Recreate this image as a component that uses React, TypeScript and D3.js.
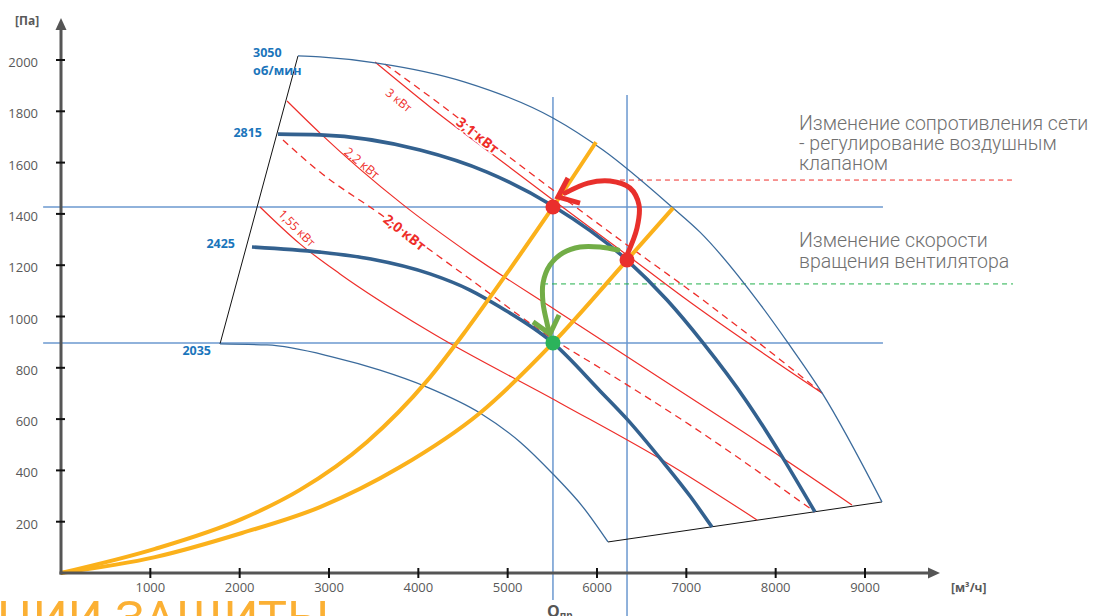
import React from "react";
import * as d3 from "d3";

type Pt = [number, number];

// ---------- axis ticks ----------
const xTickValues = [1000, 2000, 3000, 4000, 5000, 6000, 7000, 8000, 9000];
const yTickValues = [200, 400, 600, 800, 1000, 1200, 1400, 1600, 1800, 2000];

// ---------- fan curves (Q m3/h, P Pa) ----------
const curve3050: Pt[] = [[2653, 2016], [2899, 2012], [3537, 1988], [4522, 1914], [5507, 1774], [6067, 1649], [6851, 1423], [7153, 1329], [7791, 1064], [8138, 897], [8519, 702], [9190, 277]];
const curve2815: Pt[] = [[2429, 1711], [2899, 1708], [4019, 1649], [4769, 1563], [5507, 1431], [6336, 1220], [6784, 1064], [7187, 897], [7679, 667], [8082, 448], [8440, 238]];
const curve2425: Pt[] = [[2138, 1271], [2899, 1251], [3470, 1224], [4131, 1166], [4578, 1103], [4914, 1037], [5507, 897], [6034, 710], [6336, 600], [6739, 433], [7041, 300], [7287, 179]];
const curve2035: Pt[] = [[1780, 893], [2306, 889], [3045, 842], [3571, 791], [4097, 725], [4690, 624], [5138, 511], [5507, 386], [5843, 257], [6123, 121]];
const leftBoundary: Pt[] = [[2653, 2016], [1780, 893]];
const bottomBoundary: Pt[] = [[6123, 121], [9190, 277]];

// ---------- system (network) curves ----------
const systemA: Pt[] = [[0, 0], [1052, 94], [2026, 211], [2675, 324], [3425, 511], [4097, 749], [4545, 951], [5026, 1185], [5507, 1427], [5989, 1680]];
const systemB: Pt[] = [[0, 0], [1052, 62], [2026, 156], [2899, 257], [3795, 413], [4690, 624], [5507, 897], [6336, 1220], [6851, 1423]];

// ---------- power lines ----------
const power3: Pt[] = [[3515, 1992], [4131, 1817], [4914, 1610], [5507, 1454], [6336, 1240], [6963, 1076], [8519, 702]];
const power31: Pt[] = [[3627, 1984], [4243, 1828], [4914, 1649], [5507, 1493], [6336, 1279], [7187, 1064], [8519, 702]];
const power22: Pt[] = [[2530, 1840], [2899, 1715], [3817, 1439], [4578, 1244], [5586, 1014], [6705, 760], [7824, 507], [8854, 265]];
const power20: Pt[] = [[2485, 1688], [2899, 1563], [3571, 1400], [4578, 1146], [5507, 912], [6034, 799], [7075, 569], [8440, 238]];
const power155: Pt[] = [[2228, 1427], [2675, 1283], [3123, 1166], [4097, 947], [5586, 663], [6784, 429], [7791, 207]];

// ---------- operating points & guides ----------
const redPoints: Pt[] = [[5507, 1427], [6336, 1220]];
const greenPoint: Pt = [5507, 897];
const guideP = [1427, 897];
const guideQRange = [-200, 9201];
const guideQ = [5507, 6336];
const guideQTop = [1856, 1864];
const guideQBottom = [-105, -168];
const redDashP = 1532;
const redDashQ = [6257, 10679];
const greenDashP = 1127;
const greenDashQ = [5396, 10657];

// ---------- arrows ----------
const redArrowShaft: Pt[] = [[6336, 1240], [6448, 1345], [6470, 1435], [6369, 1501], [6146, 1528], [5899, 1520], [5642, 1481]];
const redArrowHead: Pt[] = [[5675, 1540], [5563, 1466], [5810, 1442]];
const greenArrowShaft: Pt[] = [[6235, 1259], [6034, 1271], [5810, 1271], [5619, 1248], [5474, 1201], [5396, 1131], [5396, 1053], [5440, 975], [5463, 940]];
const greenArrowHead: Pt[] = [[5284, 979], [5474, 932], [5575, 1006]];

// ---------- labels ----------
const rpmLabels = [
  { text: "2815", dx: -16, dy: -2 },
  { text: "2425", dx: -17, dy: -3 },
  { text: "2035", dx: -9, dy: 7 },
];
const powerLabels = [
  { text: "3 кВт", Q: 3784, P: 1844, angle: 39, bold: false, size: 12 },
  { text: "3,1 кВт", Q: 4668, P: 1708, angle: 38, bold: true, size: 14 },
  { text: "2,2 кВт", Q: 3369, P: 1598, angle: 40, bold: false, size: 12.5 },
  { text: "2,0 кВт", Q: 3851, P: 1329, angle: 38, bold: true, size: 14 },
  { text: "1,55 кВт", Q: 2642, P: 1345, angle: 45, bold: false, size: 12 },
];
const noteDamper = ["Изменение сопротивления сети", "- регулирование воздушным", "клапаном"];
const noteSpeed = ["Изменение скорости", "вращения вентилятора"];

const W = 1093;
const H = 616;

export default function App() {
  const x = d3.scaleLinear().domain([0, 9000]).range([61, 865]);
  const y = d3.scaleLinear().domain([0, 2000]).range([573, 60]);
  const smooth = d3.line<Pt>().x((d) => x(d[0])).y((d) => y(d[1])).curve(d3.curveMonotoneX);
  const free = d3.line<Pt>().x((d) => x(d[0])).y((d) => y(d[1])).curve(d3.curveCatmullRom.alpha(0.5));
  const straight = d3.line<Pt>().x((d) => x(d[0])).y((d) => y(d[1]));

  const x0 = x(0);
  const y0 = y(0);
  const thickBlue = "#33618f";
  const thinBlue = "#3b6b9c";
  const guideBlue = "#6b98cf";
  const red = "#ee2e2a";
  const orange = "#fbb11b";
  const axisCol = "#555555";
  const tickFont = "'Open Sans', sans-serif";

  return (
    <svg width={W} height={H} style={{ position: "absolute", left: 0, top: 0, display: "block", background: "#fff" }}>
      {/* guides */}
      {guideP.map((p, i) => (
        <line key={"gh" + i} x1={x(guideQRange[0])} x2={x(guideQRange[1])} y1={y(p)} y2={y(p)} stroke={guideBlue} strokeWidth={1.5} />
      ))}
      {guideQ.map((q, i) => (
        <line key={"gv" + i} x1={x(q)} x2={x(q)} y1={y(guideQTop[i])} y2={y(guideQBottom[i])} stroke={guideBlue} strokeWidth={1.5} />
      ))}
      <line x1={x(redDashQ[0])} x2={x(redDashQ[1])} y1={y(redDashP)} y2={y(redDashP)} stroke={red} strokeWidth={1} strokeDasharray="5,4" />
      <line x1={x(greenDashQ[0])} x2={x(greenDashQ[1])} y1={y(greenDashP)} y2={y(greenDashP)} stroke="#21b04b" strokeWidth={1} strokeDasharray="5,4" />

      {/* boundaries */}
      <path d={straight(leftBoundary) || ""} fill="none" stroke="#111" strokeWidth={1} />
      <path d={straight(bottomBoundary) || ""} fill="none" stroke="#111" strokeWidth={1} />

      {/* power lines */}
      <path d={smooth(power3) || ""} fill="none" stroke={red} strokeWidth={1.2} />
      <path d={smooth(power31) || ""} fill="none" stroke={red} strokeWidth={1.3} strokeDasharray="7,5" />
      <path d={smooth(power22) || ""} fill="none" stroke={red} strokeWidth={1.2} />
      <path d={smooth(power20) || ""} fill="none" stroke={red} strokeWidth={1.3} strokeDasharray="7,5" />
      <path d={smooth(power155) || ""} fill="none" stroke={red} strokeWidth={1.2} />

      {/* fan curves */}
      <path d={smooth(curve3050) || ""} fill="none" stroke={thinBlue} strokeWidth={1.3} />
      <path d={smooth(curve2035) || ""} fill="none" stroke={thinBlue} strokeWidth={1.3} />
      <path d={smooth(curve2815) || ""} fill="none" stroke={thickBlue} strokeWidth={3.6} />
      <path d={smooth(curve2425) || ""} fill="none" stroke={thickBlue} strokeWidth={3.6} />

      {/* system curves */}
      <path d={smooth(systemA) || ""} fill="none" stroke={orange} strokeWidth={4} />
      <path d={smooth(systemB) || ""} fill="none" stroke={orange} strokeWidth={4} />

      {/* power labels */}
      {powerLabels.map((l, i) => (
        <text
          key={"pl" + i}
          transform={`translate(${x(l.Q)},${y(l.P)}) rotate(${l.angle})`}
          textAnchor="middle"
          dominantBaseline="central"
          fontFamily={tickFont}
          fontSize={l.size}
          fontWeight={l.bold ? 700 : 400}
          fill={red}
          stroke={l.bold ? "#fff" : "none"}
          strokeWidth={l.bold ? 3 : 0}
          paintOrder="stroke"
        >
          {l.text}
        </text>
      ))}

      {/* arrows */}
      <path d={free(redArrowShaft) || ""} fill="none" stroke="#e8302c" strokeWidth={5} strokeLinecap="round" />
      <path d={straight(redArrowHead) || ""} fill="none" stroke="#e8302c" strokeWidth={5} strokeLinecap="butt" strokeLinejoin="miter" />
      <path d={free(greenArrowShaft) || ""} fill="none" stroke="#72ad47" strokeWidth={5} strokeLinecap="round" />
      <path d={straight(greenArrowHead) || ""} fill="none" stroke="#72ad47" strokeWidth={5} strokeLinecap="butt" strokeLinejoin="miter" />

      {/* operating points */}
      {redPoints.map((p, i) => (
        <circle key={"rp" + i} cx={x(p[0])} cy={y(p[1])} r={7.5} fill="#ea2f2c" />
      ))}
      <circle cx={x(greenPoint[0])} cy={y(greenPoint[1])} r={7.5} fill="#2bb35b" />

      {/* rpm labels */}
      <text x={x(curve3050[0][0]) - 45} y={y(curve3050[0][1]) + 1} fontFamily={tickFont} fontSize={12.5} fontWeight={700} fill="#1b75bb">3050</text>
      <text x={x(curve3050[0][0]) - 45} y={y(curve3050[0][1]) + 19} fontFamily={tickFont} fontSize={12.5} fontWeight={700} fill="#1b75bb">об/мин</text>
      {[curve2815, curve2425, curve2035].map((c, i) => (
        <text
          key={"rl" + i}
          x={x(c[0][0]) + rpmLabels[i].dx}
          y={y(c[0][1]) + rpmLabels[i].dy}
          textAnchor="end"
          dominantBaseline="central"
          fontFamily={tickFont}
          fontSize={12.5}
          fontWeight={700}
          fill="#1b75bb"
        >
          {rpmLabels[i].text}
        </text>
      ))}

      {/* axes */}
      <line x1={x0} x2={x0} y1={y0 + 1.5} y2={26} stroke={axisCol} strokeWidth={3} />
      <polygon points={`${x0},18 ${x0 - 5.5},30 ${x0 + 5.5},30`} fill={axisCol} />
      <line x1={x0 - 1.5} x2={932} y1={y0} y2={y0} stroke={axisCol} strokeWidth={3} />
      <polygon points={`940,${y0} 928,${y0 - 5.5} 928,${y0 + 5.5}`} fill={axisCol} />
      {yTickValues.map((v) => (
        <g key={"yt" + v}>
          <line x1={x0 - 5} x2={x0 + 4} y1={y(v)} y2={y(v)} stroke="#111" strokeWidth={2} />
          <text x={38} y={y(v) + 7} textAnchor="end" fontFamily={tickFont} fontSize={13} fill="#595959">{v}</text>
        </g>
      ))}
      {xTickValues.map((v) => (
        <g key={"xt" + v}>
          <line x1={x(v)} x2={x(v)} y1={y0 - 5} y2={y0 + 5} stroke="#111" strokeWidth={2} />
          <text x={x(v)} y={592} textAnchor="middle" fontFamily={tickFont} fontSize={13} fill="#595959">{v}</text>
        </g>
      ))}
      <text x={15} y={25} fontFamily={tickFont} fontSize={12} fontWeight={700} fill="#595959">[Па]</text>
      <text x={951} y={592} fontFamily={tickFont} fontSize={12} fontWeight={700} fill="#595959">[м³/ч]</text>
      <text x={547} y={617} fontFamily={tickFont} fontSize={16} fontWeight={700} fill="#555">
        Q<tspan fontSize={10} dy={2}>пр</tspan>
      </text>

      {/* notes */}
      {noteDamper.map((t, i) => (
        <text key={"nd" + i} x={799} y={130 + i * 20} fontFamily="Roboto, sans-serif" fontWeight={300} fontSize={19.5} fill="#707070">{t}</text>
      ))}
      {noteSpeed.map((t, i) => (
        <text key={"ns" + i} x={799} y={247 + i * 21} fontFamily="Roboto, sans-serif" fontWeight={300} fontSize={19.5} fill="#707070">{t}</text>
      ))}

      {/* cropped heading */}
      <text x={-3} y={635} fontFamily="Roboto, sans-serif" fontSize={49} fill="#fbb034">ЦИИ ЗАЩИТЫ</text>
    </svg>
  );
}
